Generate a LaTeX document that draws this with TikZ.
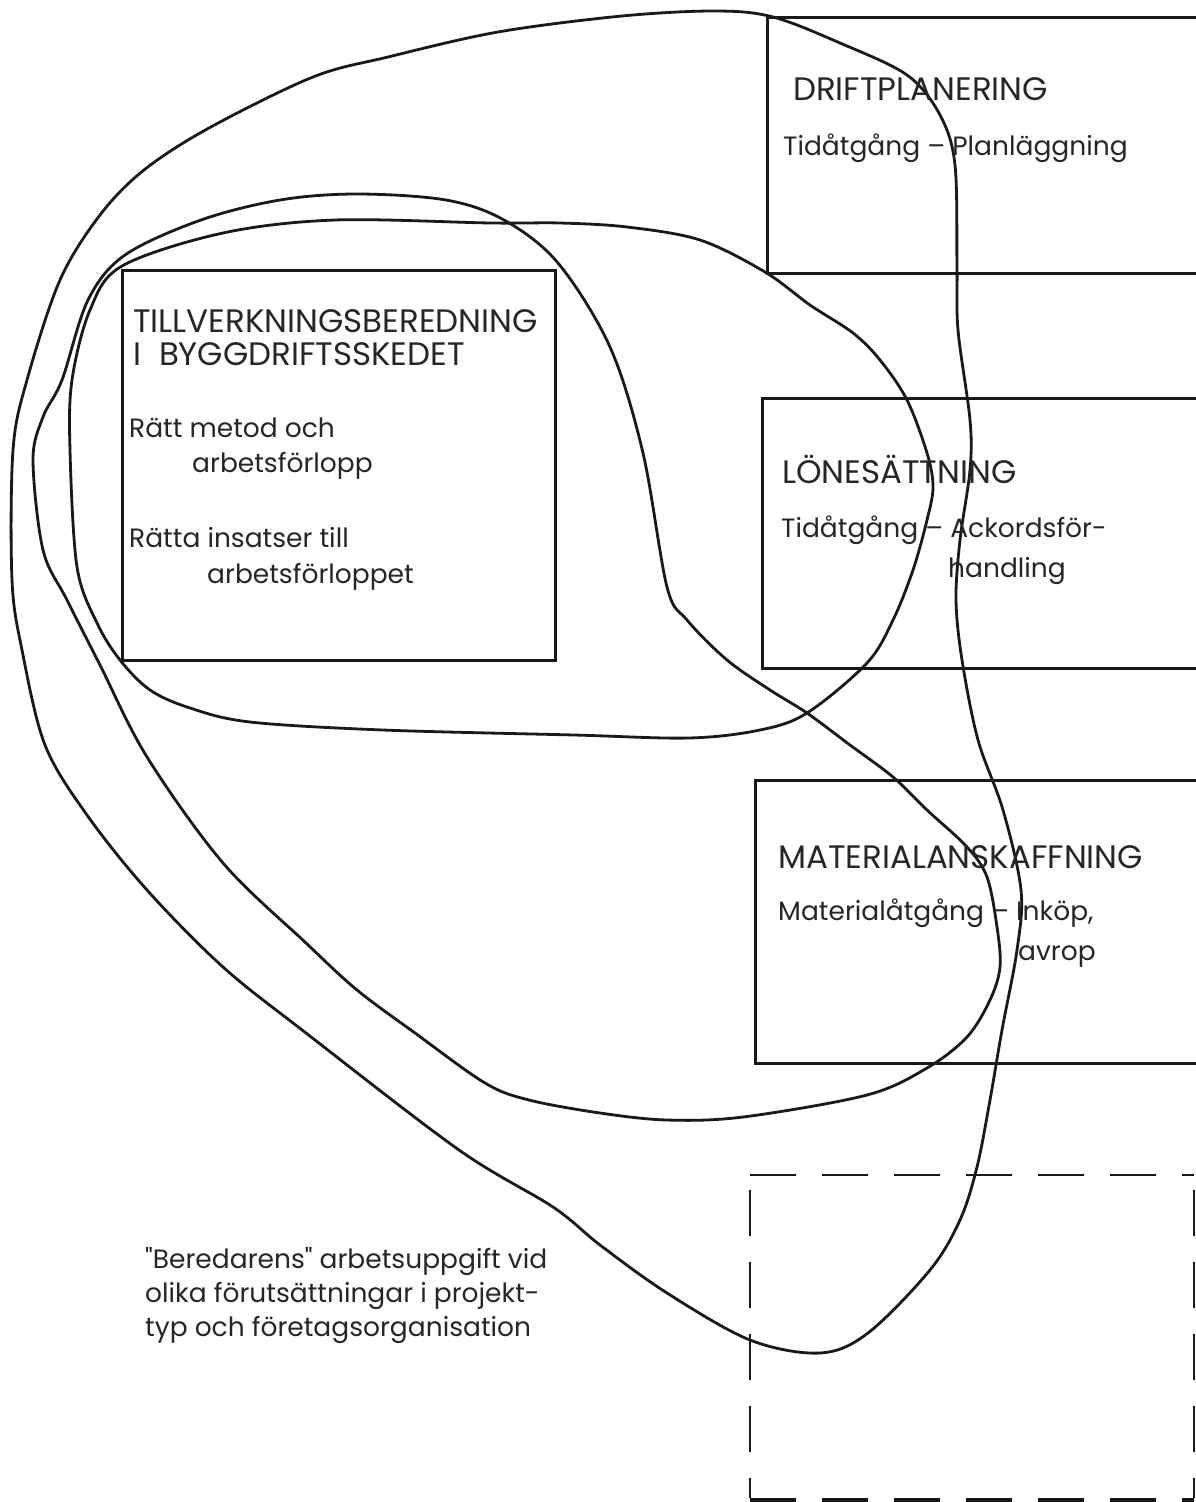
\documentclass[tikz,border=0pt]{standalone}
\usepackage{fontspec}
\setmainfont{Poppins}
\begin{document}
\begin{tikzpicture}[x=1pt,y=-1pt,
  loop/.style={line width=2.8pt, line join=round, draw=black!90},
  boxline/.style={line width=3pt, draw=black!90},
  dashline/.style={line width=2.8pt, draw=black!90, dash pattern=on 46pt off 26pt},
  lbl/.style={anchor=base west, inner sep=0pt, font=\fontsize{26.5}{34}\selectfont, text=black!85},
  caps/.style={lbl, font=\fontsize{32.5}{40}\selectfont}
]
\useasboundingbox[fill=white] (0,0) rectangle (1196,1502);

% boxes (open to the right edge)
\draw[boxline] (1196,17) -- (767,17) -- (767,273) -- (1196,273);
\draw[boxline] (1196,398) -- (762,398) -- (762,668) -- (1196,668);
\draw[boxline] (1196,780) -- (755,780) -- (755,1063) -- (1196,1063);
\draw[boxline] (122,270) rectangle (555,660);
\draw[dashline] (750,1175) -- (1194,1175);
\draw[dashline] (750,1190) -- (750,1498);
\draw[dashline] (1194,1190) -- (1194,1498);
\draw[dashline, line width=4pt] (750,1500) -- (1194,1500);

% outer loop
\draw[loop] plot[smooth cycle, tension=0.55] coordinates {
 (144,170) (209,128) (313,77) (388,57) (498,32) (622,16) (716,11) (773,17)
 (840,43) (907,75) (940,115) (955,165) (957,267) (958,330) (970,420) (970,470)
 (960,540) (956,600) (962,660) (978,740) (1003,810) (1021,890) (1017,950)
 (1002,1030) (990,1100) (977,1167) (960,1220) (930,1270) (868,1333) (820,1353)
 (750,1340) (667,1293) (600,1245) (553,1207) (459,1150) (306,1033) (223,967)
 (147,890) (87,815) (45,745) (22,650) (12,580) (13,450) (27,380) (60,280) (100,215)};

% middle loop
\draw[loop] plot[smooth cycle, tension=0.55] coordinates {
 (62,380) (88,300) (125,255) (201,220) (280,200) (357,194) (446,200) (504,220)
 (558,263) (610,347) (643,453) (667,587) (687,620) (727,660) (770,690) (807,713)
 (850,745) (893,777) (927,810) (967,847) (987,877) (997,927) (1000,967) (990,1000)
 (967,1037) (927,1068) (867,1095) (743,1117) (667,1120) (600,1113) (529,1100)
 (485,1083) (415,1033) (357,990) (306,943) (223,863) (147,757) (100,665) (67,600)
 (43,550) (33,460) (43,417)};

% small loop
\draw[loop] plot[smooth cycle, tension=0.55] coordinates {
 (122,266) (223,233) (335,220) (491,223) (560,223) (627,227) (700,240) (765,272)
 (810,305) (853,333) (880,360) (907,400) (927,453) (933,487) (927,520) (913,570)
 (893,620) (867,663) (807,713) (760,730) (689,738) (574,735) (383,730) (250,722)
 (190,708) (150,690) (120,660) (97,623) (77,567) (70,450) (72,380) (90,310)};

% texts
\node[caps] (t1) at (793,100) {DRIFTPLANERING};
\node[lbl] (t2) at (783,155) {Tidåtgång – Planläggning};
\node[caps] (t3) at (782,483) {LÖNESÄTTNING};
\node[lbl] (t4) at (781,537) {Tidåtgång – Ackordsför-};
\node[lbl] (t5) at (948,577) {handling};
\node[caps] (t6) at (778,868) {MATERIALANSKAFFNING};
\node[lbl] (t7) at (778,920) {Materialåtgång – Inköp,};
\node[lbl] (t8) at (1018,960) {avrop};
\node[caps] (t9) at (133,332) {TILLVERKNINGSBEREDNING};
\node[caps] (t10) at (133,365) {I\hspace{0.55em}BYGGDRIFTSSKEDET};
\node[lbl] (t11) at (129,437) {Rätt metod och};
\node[lbl] (t12) at (192,472) {arbetsförlopp};
\node[lbl] (t13) at (129,547) {Rätta insatser till};
\node[lbl] (t14) at (207,583) {arbetsförloppet};
\node[lbl] (t15) at (145,1268) {\textquotedbl Beredarens\textquotedbl{} arbetsuppgift vid};
\node[lbl] (t16) at (145,1302) {olika förutsättningar i projekt-};
\node[lbl] (t17) at (145,1336) {typ och företagsorganisation};
\end{tikzpicture}
\end{document}
